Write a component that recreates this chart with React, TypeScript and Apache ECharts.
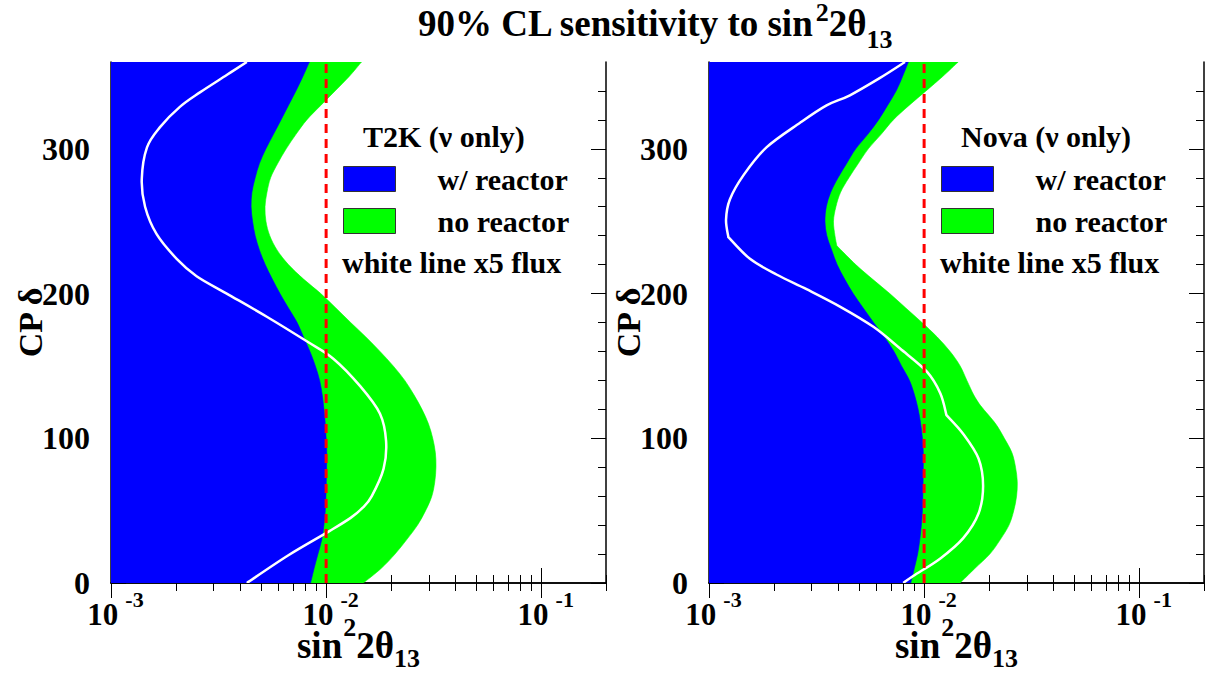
import React, { useEffect, useRef } from 'react';
import * as echarts from 'echarts';

// ---------------- data ----------------
const DELTA = [0, 10, 20, 30, 40, 50, 60, 70, 80, 90, 100, 110, 120, 130, 140, 150, 160, 170, 180,
  190, 200, 210, 220, 230, 240, 250, 260, 270, 280, 290, 300, 310, 320, 330, 340, 350, 360];

// T2K: sin^2 2theta13 sensitivity boundary at each CP delta
const T2K_WITH_REACTOR = [0.00847, 0.00879, 0.00916, 0.00955, 0.00977, 0.00991, 0.00998, 0.01002, 0.01005, 0.01007,
  0.0100, 0.00991, 0.00977, 0.00959, 0.00933, 0.00891, 0.00841, 0.00785, 0.00733, 0.00668, 0.00610, 0.00562,
  0.00521, 0.00490, 0.00468, 0.00455, 0.00448, 0.00452, 0.00468, 0.00490, 0.00525, 0.00569, 0.00617, 0.00668,
  0.00724, 0.00780, 0.00836];
const T2K_NO_REACTOR = [0.0149, 0.0180, 0.0209, 0.0237, 0.0266, 0.0290, 0.0310, 0.0320, 0.0324, 0.0322, 0.0313,
  0.0299, 0.0279, 0.0256, 0.0232, 0.0205, 0.0178, 0.0153, 0.0130, 0.0111, 0.00944, 0.00785, 0.00668, 0.00592,
  0.00547, 0.00525, 0.00520, 0.00531, 0.00552, 0.00596, 0.00652, 0.00724, 0.00813, 0.00944, 0.0110, 0.0128, 0.0146];
const T2K_FLUX5_DELTA = [360, 351, 339, 329, 315, 301, 279, 260, 241, 224, 212, 200, 184, 167, 155, 136, 117, 98,
  79, 60, 52, 45, 36, 19, 0];
const T2K_FLUX5 = [0.00428, 0.00345, 0.00259, 0.00209, 0.00169, 0.00147, 0.00139, 0.00144, 0.00163, 0.00202,
  0.00250, 0.00345, 0.00530, 0.00813, 0.0108, 0.0144, 0.0178, 0.0190, 0.0185, 0.0163, 0.0148, 0.0130, 0.0104,
  0.00665, 0.00428];

// Nova
const NOVA_WITH_REACTOR = [0.00867, 0.00900, 0.00933, 0.00955, 0.00971, 0.00982, 0.00986, 0.00989, 0.00991, 0.00991,
  0.00982, 0.00964, 0.00938, 0.00902, 0.00855, 0.00785, 0.00724, 0.00653, 0.00582, 0.00521, 0.00468, 0.00427,
  0.00394, 0.00372, 0.00353, 0.00346, 0.00351, 0.00368, 0.00398, 0.00437, 0.00481, 0.00547, 0.00614, 0.00676,
  0.00741, 0.00794, 0.00845];
const NOVA_NO_REACTOR_DELTA = [0, 10, 20, 30, 40, 50, 60, 70, 80, 90, 100, 110, 120, 124, 130, 140, 150, 160, 170,
  180, 190, 200, 210, 220, 233, 240, 250, 260, 270, 280, 290, 300, 310, 320, 330, 340, 350, 360];
const NOVA_NO_REACTOR = [0.0147, 0.0172, 0.0202, 0.0226, 0.0248, 0.0261, 0.0269, 0.0271, 0.0266, 0.0256, 0.0236,
  0.0215, 0.0189, 0.0180, 0.0170, 0.0158, 0.0147, 0.0132, 0.0115, 0.00977, 0.00822, 0.00692, 0.00575, 0.00481,
  0.00393, 0.00385, 0.00379, 0.00389, 0.00409, 0.00447, 0.00495, 0.00550, 0.00631, 0.00719, 0.00851, 0.0102,
  0.0122, 0.0144];
const NOVA_NO_REACTOR_KINKS = [124, 233];
const NOVA_FLUX5_DELTA = [360, 349, 337, 330, 318, 301, 282, 265, 251, 239, 224, 213, 203, 191, 177, 162, 146, 131,
  116, 103, 86, 67, 48, 31, 17, 5, 0];
const NOVA_FLUX5 = [0.00815, 0.00624, 0.00452, 0.00352, 0.00265, 0.00185, 0.00145, 0.00125, 0.00120, 0.00123,
  0.00155, 0.00207, 0.00284, 0.00406, 0.00581, 0.00773, 0.0103, 0.0119, 0.0127, 0.0152, 0.0179, 0.0188, 0.0179,
  0.0152, 0.0119, 0.00893, 0.00800];
const NOVA_FLUX5_KINKS = [239, 116];

const REFERENCE_SIN2 = 0.01;

const X_MIN = 0.001;
const X_MAX = 0.2;
const X_MAJOR = [0.001, 0.01, 0.1];
const X_MINOR = [0.002, 0.003, 0.004, 0.005, 0.006, 0.007, 0.008, 0.009,
  0.02, 0.03, 0.04, 0.05, 0.06, 0.07, 0.08, 0.09, 0.2];
const Y_MIN = 0;
const Y_MAX = 360;
const Y_MAJOR = [0, 100, 200, 300];
const Y_MINOR = [20, 40, 60, 80, 120, 140, 160, 180, 220, 240, 260, 280, 320, 340];

const PANELS = [
  { label: 'T2K (ν only)', reactor: T2K_WITH_REACTOR, reactorDelta: DELTA, noReactor: T2K_NO_REACTOR,
    noReactorDelta: DELTA, kinks: [] as number[], flux: T2K_FLUX5, fluxDelta: T2K_FLUX5_DELTA, fluxKinks: [] as number[] },
  { label: 'Nova (ν only)', reactor: NOVA_WITH_REACTOR, reactorDelta: DELTA, noReactor: NOVA_NO_REACTOR,
    noReactorDelta: NOVA_NO_REACTOR_DELTA, kinks: NOVA_NO_REACTOR_KINKS, flux: NOVA_FLUX5, fluxDelta: NOVA_FLUX5_DELTA,
    fluxKinks: NOVA_FLUX5_KINKS },
];

// ---------------- styling ----------------
const FONT = '"Liberation Serif", "Times New Roman", serif';
const BLUE = '#0000ff';
const GREEN = '#00ff00';
const GRID_LEFT = [111, 709];
const GRID_TOP = 62;
const GRID_W = 495;
const GRID_H = 521;

// smooth curve through the boundary points; closed against the plot's left edge for the fills
const SmoothCurve = (echarts.graphic as any).extendShape({
  type: 'smoothCurve',
  shape: { points: [] as number[][], x0: 0, open: false },
  buildPath(ctx: any, shape: any) {
    const p = shape.points as number[][];
    const n = p.length;
    if (n < 2) return;
    const t = 1 / 6;
    if (shape.open) {
      ctx.moveTo(p[0][0], p[0][1]);
    } else {
      ctx.moveTo(shape.x0, p[0][1]);
      ctx.lineTo(p[0][0], p[0][1]);
    }
    for (let i = 0; i < n - 1; i++) {
      const p1 = p[i];
      const p2 = p[i + 1];
      const p0 = i > 0 && !p1[2] ? p[i - 1] : p1;
      const p3 = i + 2 < n && !p2[2] ? p[i + 2] : p2;
      ctx.bezierCurveTo(
        p1[0] + (p2[0] - p0[0]) * t, p1[1] + (p2[1] - p0[1]) * t,
        p2[0] - (p3[0] - p1[0]) * t, p2[1] - (p3[1] - p1[1]) * t,
        p2[0], p2[1]);
    }
    if (!shape.open) {
      ctx.lineTo(shape.x0, p[n - 1][1]);
      ctx.closePath();
    }
  },
});
(echarts.graphic as any).registerShape('smoothCurve', SmoothCurve);

function curveSeries(name: string, color: string, xs: number[], deltas: number[], kinks: number[],
  axisIdx: number, filled: boolean, z: number) {
  const data = xs.map((v, i) => [v, deltas[i]]);
  return {
    type: 'custom',
    name,
    xAxisIndex: axisIdx,
    yAxisIndex: axisIdx,
    silent: true,
    clip: true,
    z,
    itemStyle: { color },
    data,
    renderItem: (params: any, api: any) => {
      if (params.dataIndex !== 0) return null;
      const pts = data.map((d) => {
        const c = api.coord(d);
        return [c[0], c[1], kinks.indexOf(d[1]) >= 0 ? 1 : 0];
      });
      const x0 = api.coord([X_MIN, Y_MIN])[0];
      return {
        type: 'smoothCurve',
        shape: { points: pts, x0, open: !filled },
        style: filled
          ? { fill: color, stroke: color, lineWidth: 0.6 }
          : { fill: 'none', stroke: color, lineWidth: 2.5 },
      };
    },
  };
}

const nameRich = {
  m: { fontFamily: FONT, fontWeight: 'bold', fontSize: 37, lineHeight: 37, color: '#000', verticalAlign: 'bottom', padding: [0, 0, 7, 0] },
  p: { fontFamily: FONT, fontWeight: 'bold', fontSize: 26, lineHeight: 26, color: '#000', verticalAlign: 'bottom', padding: [0, 0, 31, 1] },
  s: { fontFamily: FONT, fontWeight: 'bold', fontSize: 26, lineHeight: 18, color: '#000', verticalAlign: 'bottom', padding: [0, 0, 0, 0] },
};

function buildOption() {
  const xAxis: any[] = [];
  const yAxis: any[] = [];
  const grid: any[] = [];
  const series: any[] = [];
  const legend: any[] = [];
  const graphic: any[] = [];

  PANELS.forEach((panel, gi) => {
    grid.push({
      left: GRID_LEFT[gi], top: GRID_TOP, width: GRID_W, height: GRID_H,
      containLabel: false, outerBoundsMode: 'none',
    });
    const lineStyle = { color: '#000', width: 1.5 };
    const tickStyle = { color: '#000', width: 1 };
    const xBase = { type: 'log', logBase: 10, gridIndex: gi, min: X_MIN, max: X_MAX, splitLine: { show: false }, z: 0 };
    xAxis.push({
      ...xBase,
      position: 'bottom',
      axisLine: { show: true, lineStyle },
      axisTick: { show: true, inside: true, length: 15, customValues: X_MAJOR, lineStyle: tickStyle },
      axisLabel: {
        show: true,
        customValues: X_MAJOR,
        margin: 15,
        padding: [0, 0, 0, 9],
        formatter: (v: number) => `{b|10}{e|${Math.round(Math.log10(v))}}`,
        rich: {
          b: { fontFamily: FONT, fontWeight: 'bold', fontSize: 31, lineHeight: 32, color: '#000', verticalAlign: 'bottom' },
          e: { fontFamily: FONT, fontWeight: 'bold', fontSize: 22, lineHeight: 22, color: '#000', verticalAlign: 'bottom', padding: [0, 0, 20, 7] },
        },
      },
      name: '{m|sin}{p|2}{m|2θ}{s|13}',
      nameLocation: 'middle',
      nameGap: 51,
      nameMoveOverlap: false,
      nameTextStyle: { rich: nameRich },
    });
    xAxis.push({
      ...xBase,
      position: 'bottom',
      axisLine: { show: false },
      axisTick: { show: true, inside: true, length: 8, customValues: X_MINOR, lineStyle: tickStyle },
      axisLabel: { show: false },
    });
    xAxis.push({
      ...xBase,
      position: 'top',
      axisLine: { show: true, lineStyle },
      axisTick: { show: true, inside: true, length: 15, customValues: X_MAJOR, lineStyle: tickStyle },
      axisLabel: { show: false },
    });
    xAxis.push({
      ...xBase,
      position: 'top',
      axisLine: { show: false },
      axisTick: { show: true, inside: true, length: 8, customValues: X_MINOR, lineStyle: tickStyle },
      axisLabel: { show: false },
    });

    const yBase = { type: 'value', gridIndex: gi, min: Y_MIN, max: Y_MAX, splitLine: { show: false }, z: 0 };
    yAxis.push({
      ...yBase,
      position: 'left',
      axisLine: { show: true, lineStyle },
      axisTick: { show: true, inside: true, length: 15, customValues: Y_MAJOR, lineStyle: tickStyle },
      axisLabel: {
        show: true, customValues: Y_MAJOR, margin: 21,
        fontFamily: FONT, fontWeight: 'bold', fontSize: 32, color: '#000',
      },
      name: 'CP δ',
      nameLocation: 'middle',
      nameGap: 64,
      nameMoveOverlap: false,
      nameTextStyle: { fontFamily: FONT, fontWeight: 'bold', fontSize: 34, color: '#000' },
    });
    yAxis.push({
      ...yBase,
      position: 'left',
      axisLine: { show: false },
      axisTick: { show: true, inside: true, length: 8, customValues: Y_MINOR, lineStyle: tickStyle },
      axisLabel: { show: false },
    });
    yAxis.push({
      ...yBase,
      position: 'right',
      axisLine: { show: true, lineStyle },
      axisTick: { show: true, inside: true, length: 15, customValues: Y_MAJOR, lineStyle: tickStyle },
      axisLabel: { show: false },
    });
    yAxis.push({
      ...yBase,
      position: 'right',
      axisLine: { show: false },
      axisTick: { show: true, inside: true, length: 8, customValues: Y_MINOR, lineStyle: tickStyle },
      axisLabel: { show: false },
    });

    const ai = gi * 4;
    series.push(curveSeries('no reactor', GREEN, panel.noReactor, panel.noReactorDelta, panel.kinks, ai, true, 2));
    series.push(curveSeries('w/ reactor', BLUE, panel.reactor, panel.reactorDelta, [], ai, true, 2));
    series.push(curveSeries('white line x5 flux', '#ffffff', panel.flux, panel.fluxDelta, panel.fluxKinks, ai, false, 3));
    series.push({
      type: 'line',
      name: 'reference',
      xAxisIndex: ai,
      yAxisIndex: ai,
      data: [[REFERENCE_SIN2, Y_MIN], [REFERENCE_SIN2, Y_MAX]],
      symbol: 'none',
      silent: true,
      z: 4,
      lineStyle: { color: '#ff0000', width: 3, type: [9, 6] },
    });

    const lx = GRID_LEFT[gi] + 232;
    legend.push({
      data: ['w/ reactor', 'no reactor'],
      orient: 'vertical',
      left: lx,
      top: 164,
      padding: 0,
      itemWidth: 52,
      itemHeight: 25,
      itemGap: 12,
      icon: 'rect',
      selectedMode: false,
      itemStyle: { borderColor: '#333', borderWidth: 1 },
      textStyle: { fontFamily: FONT, fontWeight: 'bold', fontSize: 30, color: '#000', padding: [0, 0, 0, 37] },
    });
    graphic.push({
      type: 'text',
      left: lx + 20,
      top: 121,
      style: { text: panel.label, fontFamily: FONT, fontWeight: 'bold', fontSize: 30, fill: '#000' },
    });
    graphic.push({
      type: 'text',
      left: lx - 1,
      top: 247,
      style: { text: 'white line x5 flux', fontFamily: FONT, fontWeight: 'bold', fontSize: 30, fill: '#000' },
    });
  });

  return {
    animation: false,
    backgroundColor: '#ffffff',
    title: {
      text: '{a|90% CL sensitivity to sin}{p|2}{a|2θ}{s|13}',
      left: 418,
      top: 15,
      padding: 0,
      textStyle: {
        rich: {
          a: { fontFamily: FONT, fontWeight: 'bold', fontSize: 37, lineHeight: 37, color: '#000', verticalAlign: 'bottom', padding: [0, 0, 10, 0] },
          p: { fontFamily: FONT, fontWeight: 'bold', fontSize: 26, lineHeight: 26, color: '#000', verticalAlign: 'bottom', padding: [0, 0, 27, 1] },
          s: { fontFamily: FONT, fontWeight: 'bold', fontSize: 26, lineHeight: 26, color: '#000', verticalAlign: 'bottom' },
        },
      },
    },
    grid,
    xAxis,
    yAxis,
    legend,
    graphic,
    series,
  };
}

export default function App() {
  const ref = useRef<HTMLDivElement>(null);
  useEffect(() => {
    if (!ref.current) return;
    const chart = echarts.init(ref.current, null, { renderer: 'svg' });
    chart.setOption(buildOption() as any);
    return () => chart.dispose();
  }, []);
  return (
    <div
      ref={ref}
      style={{ position: 'absolute', left: 0, top: 0, width: 1213, height: 678, background: '#fff' }}
    />
  );
}
